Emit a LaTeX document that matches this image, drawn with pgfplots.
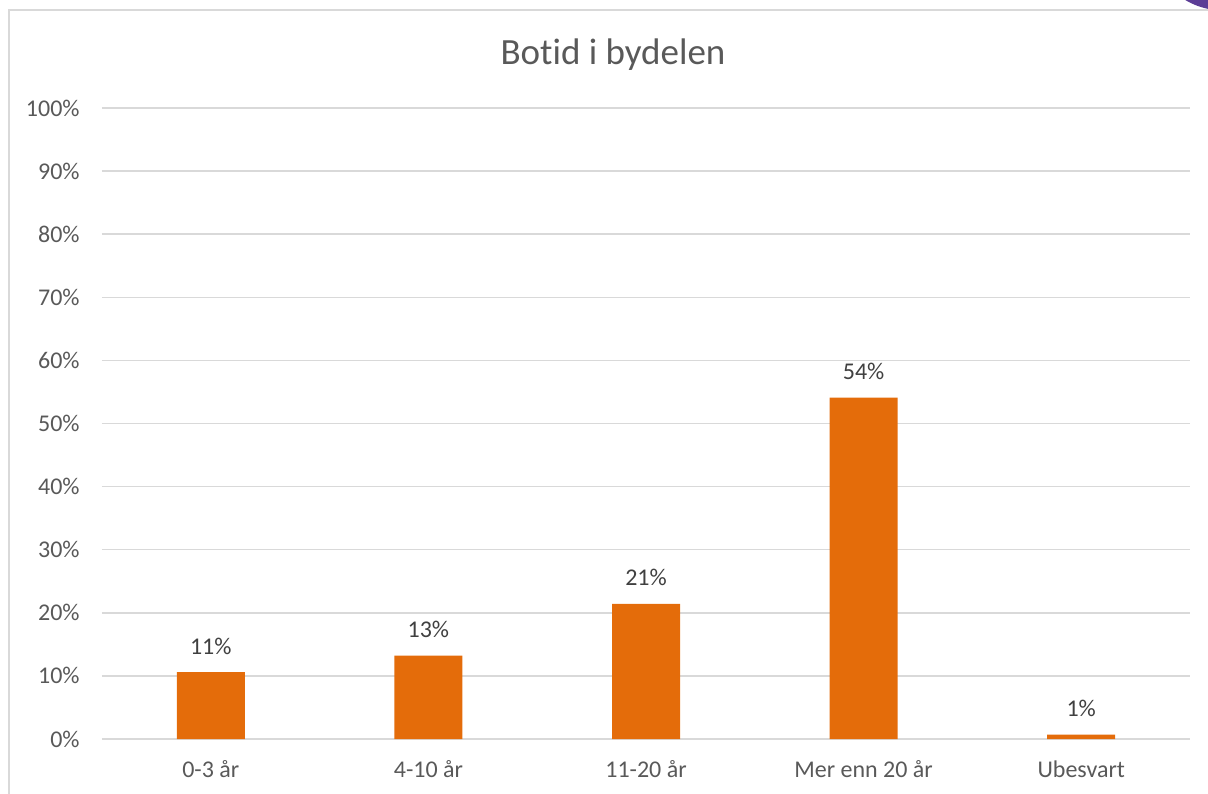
\documentclass[border=0pt]{standalone}
\usepackage{fontspec}
\setmainfont[Ligatures=NoCommon]{Carlito}
\usepackage{pgfplots}
\pgfplotsset{compat=1.18}

\definecolor{barorange}{RGB}{228,108,10}
\definecolor{gridgray}{RGB}{217,217,217}
\definecolor{ticktext}{RGB}{89,89,89}
\definecolor{labeltext}{RGB}{64,64,64}
\definecolor{cornerpurple}{RGB}{92,61,150}

\begin{document}
\begin{tikzpicture}
% frame: 1208 x 793 reference pixels, 1 px = 0.5pt, origin bottom left
\path[use as bounding box] (0pt,0pt) rectangle (604pt,396.5pt);
\begin{scope}
  \clip (0pt,0pt) rectangle (604pt,396.5pt);
  \draw[gridgray, line width=0.75pt] (4.5pt,-5pt) -- (4.5pt,391.5pt) -- (610pt,391.5pt);
  \fill[cornerpurple] (611.75pt,428.75pt) circle (37.5pt);
\end{scope}
\node[font=\fontsize{18.5pt}{22pt}\selectfont, text=ticktext, anchor=center] at (306.5pt,369pt) {Botid i bydelen};

\begin{axis}[
    at={(51pt,27pt)}, anchor=south west,
    scale only axis,
    width=544pt, height=315.5pt,
    xmin=-0.5, xmax=4.5,
    ymin=0, ymax=100,
    axis line style={draw=none},
    major tick length=0pt,
    ymajorgrids=true,
    grid style={gridgray, line width=0.75pt},
    ytick={0,10,...,100},
    yticklabel={\pgfmathprintnumber{\tick}\%},
    xtick={0,1,2,3,4},
    xticklabels={0-3 år, 4-10 år, 11-20 år, Mer enn 20 år, Ubesvart},
    /pgf/number format/assume math mode=true,
    yticklabel style={font=\fontsize{12pt}{14pt}\selectfont, text=ticktext, inner sep=0pt, anchor=east, xshift=-11pt},
    xticklabel style={font=\fontsize{12pt}{14pt}\selectfont, text=ticktext, inner sep=0pt, anchor=base, yshift=-19pt},
    ybar, bar width=34pt,
    nodes near coords={\pgfmathprintnumber[fixed,precision=0]{\pgfplotspointmeta}\%},
    nodes near coords style={font=\fontsize{12pt}{14pt}\selectfont, text=labeltext, inner sep=0pt, anchor=base, yshift=9pt},
]
\addplot[fill=barorange, draw=none] coordinates {
    (0,10.6) (1,13.2) (2,21.4) (3,54.1) (4,0.7)
};
\end{axis}
\end{tikzpicture}
\end{document}
